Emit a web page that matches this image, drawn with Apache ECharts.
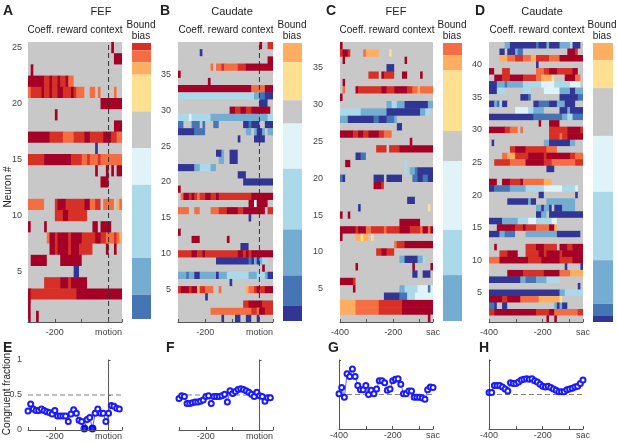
<!DOCTYPE html>
<html>
<head>
<meta charset="utf-8">
<script src="https://cdn.jsdelivr.net/npm/echarts@6/dist/echarts.min.js"></script>
<style>
  html, body { margin: 0; padding: 0; background: #fff; }
  #chart { width: 617px; height: 443px; }
</style>
</head>
<body>
<div id="chart"></div>
<script>
// colour codes used in the heatmap rows (run-length coded, e.g. "6R2r" = 6 dark red, 2 red)
var codes  = ['R', 'r', 'o', 'a', 'y', '.', 'c', 'l', 'm', 'b', 'B'];
var colors = ['#a50026', '#d73027', '#f46d43', '#fdae61', '#fee090', '#c8c8c8',
              '#e0f3f8', '#abd9e9', '#74add1', '#4575b4', '#313695'];

// rows listed from the top neuron down to neuron 1
var heatA = [
  "31.R3.", "32.3R", ".R33.", "6R2rR2rR2rR2o18.", "o4rR2rR2r2R3rRr3o2.2o.o5.o2.",
  "27.8R", "10.R24.", "32.3R", "8R5r4o4r2R5r3R2r2o", "25.B9.",
  "6r10R4r2or3or8o", "25.R3.R.R.2R", "27.3R5.", "35.", "6o4.r3R7r2R2o2r.4o.ao",
  "10.3r2R7r13.", "R5.R17.2R.4R4.", "7.o2Rr4Rr4R5r2R2r3oroa", "8.2Rr4Rr3R5r5.R2.R2.", ".6R5.8R15.",
  "17.2B16.", "6.6r3Rr6R13.", "R17r17R", "R34.", "R2.R31."
];
var heatB = [
  "30.R2.2r", "8.B26.", "33.2R", "12.o.2or5o3r10R", "R34.",
  "11.R23.", "27R5o3R", "28l2m2b3B", "30.3B2.", "19.2R2r2R2r7R.",
  "4lc7l21m2l", "2b3.3b.b3.2b9.2Bb3B2.3B", "6B4b15.2m.m2Bm.2m", "22.B5.4B3.", "35.",
  "14.2Bm2.3B13.", "15.2m2.3B13.", "6B2m4l2m21.", "22.3B10.", "24.11B",
  "R34.", ".o2RrRro2r2R2rR12r8R", "26.2Rc4R2.", "4o2.2o4.3o3r4R2r8R.2r", "26.B8.",
  "35.", "R34.", "5.3R10.R16.", "23.3B9.", "5r2R2rR12r2RrRr8R",
  "14.12BbBmBm2l2.", "31.R3.", "3mb2m2B6mB3m8l3m3lm2B", "19.B15.", "r3Rr2Ra2r3o2.o9.a2orR2r3R",
  "10.B24.", "24.2r5R4r", "12.15o2ro2R3r", "16.B4.2B2.2B2.B5."
];
var heatC = [
  "R35.", "r2Rr5.o5a4.y16.", ".R23.R10.", "18.3B15.", "11.4r.R4r3.2R5.R4.",
  ".R34.", ".o4.R9r2R3r5R2r2oa5o", "R35.", "18.2m2l3m9B2m", "8l10m13B2m2l.",
  "3m10B2b3B3bm14.", "22.2B12.", "5R2r2R2r4R2r3o16.", "27.R8.", "14.4r.4r13R",
  "6.2B2b26.", "2.2R21.l10.", "25.l.2mb6B", "bB11.4B.6B4.2b2B2b2B", "13.3Rr19.",
  "36.", "26.3B7.", "7.B26.y.", "R2.R32.", "23.8R5.",
  "6Rr3R2o5ro5r4R4ro2RoR", "R5.2ay2a.y23.", "21.o3r11R", "14.2r2R3r15.", "23.2m5B2ml3.",
  "6.R21.R6.R", "28.2B2.3B.", "5Rr30.", "5.R17.2m5l4cbc", "17.6B3b3l7c",
  "6a9o9r12R", "6a9o9r12R", "34.R."
];
var heatD = [
  "6.2m10Bb3Bm4B4ml3B.", "4.2B.3Bm2b17.3Rr2.", "4.3a3o3r3o2a5r4o9R", "18.B17.", "2R3.3r10.3o2r3R6r2R2.",
  "2.3R3r5R5r2o4ay4.4R2o.", "3B3mb6m7l5c6l4c.", "3B3l7.3l5.6c4m2B3m", "12.3Bb11.7B2b", "2Bmbl2B10.2B4b3B3m4B3.",
  "10.5c2l4m6.3Bm5B", "17B11b2m2l4b", "19.R3.4R9.", "6R2r3o.o10.7r5Rr", "23.4ro2r6R",
  ".B19.2m8B2m3.", "8.2r4R8r4o10.", "5.2o3a5r6Rr9R2r3o", "2.6r6o7R3r9o3r", "22.3B11.",
  "36.", "3R2.3R4rR8o3a12.", "2B6b6m7l7c5lc2.", "19.2B12.B2.", "7.8Bm2B4.11m3.",
  "18.2mB2mB.3B5m3.", "18.2B2m.13B", "5B6m4l3c6l2c10.", "3.7R3rR4r5o2Ra10.", "4B2m4b4.12m9B.",
  "36.", "2.R11.4r3R5r.3R2r4R", "4.3r4R3.5r2Rr5Rr8R", "4o11R5r7R5r4R", "29.B5.B",
  "7.6R8r6R4o5a", "12B2m4b4m5l9.", "34.B.", "27B2m7l", "5R2r5R7o8ay8.",
  "2bB2.2B18.mBm2B6.", "2r16R5r2R9o2r", "22.R2.R10."
];

// colour bars, top to bottom
var cbA_codes = ['r', 'o', 'a', 'y', '.', 'c', 'l', 'm', 'b'];
var cbA_sizes = [22, 36, 37, 110, 110, 110, 220, 110, 73];
var cbB_codes = ['a', 'y', '.', 'c', 'l', 'm', 'b', 'B'];
var cbB_sizes = [58, 114, 70, 136, 182, 138, 90, 47];
var cbC_codes = ['o', 'a', 'y', '.', 'c', 'l', 'm'];
var cbC_sizes = [38, 47, 187, 93, 213, 140, 142];
var cbD_codes = ['a', 'y', '.', 'c', 'l', 'm', 'b', 'B'];
var cbD_sizes = [52, 83, 143, 167, 205, 130, 35, 20];

// congruent fraction, 10 ms steps
var lineE = [0.27, 0.37, 0.30, 0.28, 0.28, 0.30, 0.28, 0.26, 0.25, 0.23, 0.28, 0.20, 0.20, 0.20, 0.20, 0.12, 0.23, 0.29,
             0.24, 0.14, 0.12, 0.02, 0.15, 0.18, 0.02, 0.24, 0.30, 0.24, 0.24, 0.12, 0.24, 0.35, 0.34, 0.31, 0.30];
var sigE  = [21, 24];
var lineF = [0.45, 0.49, 0.48, 0.38, 0.38, 0.39, 0.40, 0.40, 0.41, 0.43, 0.48, 0.49, 0.38, 0.48, 0.48, 0.48, 0.49, 0.51,
             0.40, 0.56, 0.52, 0.55, 0.58, 0.59, 0.58, 0.56, 0.54, 0.51, 0.48, 0.54, 0.49, 0.48, 0.41, 0.46, 0.46];
var lineG = [0.51, 0.60, 0.46, 0.80, 0.76, 0.87, 0.76, 0.63, 0.57, 0.57, 0.63, 0.50, 0.56, 0.51, 0.58, 0.70, 0.70, 0.67,
             0.56, 0.58, 0.70, 0.72, 0.73, 0.65, 0.51, 0.51, 0.55, 0.55, 0.46, 0.46, 0.46, 0.45, 0.43, 0.57, 0.61, 0.60];
var lineH = [0.53, 0.53, 0.63, 0.63, 0.63, 0.61, 0.58, 0.55, 0.67, 0.66, 0.66, 0.68, 0.71, 0.72, 0.73, 0.72, 0.73, 0.70,
             0.68, 0.65, 0.62, 0.61, 0.62, 0.60, 0.58, 0.56, 0.54, 0.54, 0.54, 0.57, 0.58, 0.59, 0.61, 0.62, 0.66, 0.71];

var tickMotion = {'-200': '-200', '0': 'motion'};
var tickSac    = {'-400': '-400', '-200': '-200', '-50': 'sac'};

(function () {

    var FONT = 'Liberation Sans, Arial, sans-serif';

    var panels = [
        {letter: 'A', area: 'FEF', rows: heatA, bins: 35, tMin: -300, tMax: 50, ticks: tickMotion, dash: true,
         heat: [28, 42, 94, 280], yMargin: 6, cb: [132, 43, 19, 276], cbCodes: cbA_codes, cbSizes: cbA_sizes,
         line: lineE, sig: sigE, lineBox: [28, 360, 94, 70], yLabels: true,
         letterX: 3, areaX: 101, coeffX: 75, cbX: 141, lowLetterX: 3},
        {letter: 'B', area: 'Caudate', rows: heatB, bins: 35, tMin: -300, tMax: 50, ticks: tickMotion, dash: true,
         heat: [178, 42, 95, 280], yMargin: 7, cb: [283, 43, 19, 278], cbCodes: cbB_codes, cbSizes: cbB_sizes,
         line: lineF, sig: [], lineBox: [179, 360, 94, 70], yLabels: false,
         letterX: 160, areaX: 232, coeffX: 226, cbX: 292, lowLetterX: 166},
        {letter: 'C', area: 'FEF', rows: heatC, bins: 36, tMin: -400, tMax: -50, ticks: tickSac, dash: false,
         heat: [340, 42, 93, 280], yMargin: 17, cb: [443, 43, 19, 278], cbCodes: cbC_codes, cbSizes: cbC_sizes,
         line: lineG, sig: [], lineBox: [339, 360, 94, 69], yLabels: false,
         letterX: 326, areaX: 396, coeffX: 387, cbX: 452, lowLetterX: 328},
        {letter: 'D', area: 'Caudate', rows: heatD, bins: 36, tMin: -400, tMax: -50, ticks: tickSac, dash: false,
         heat: [489, 42, 94, 280], yMargin: 7, cb: [593, 43, 20, 279], cbCodes: cbD_codes, cbSizes: cbD_sizes,
         line: lineH, sig: [], lineBox: [489, 360, 94, 69], yLabels: false,
         letterX: 475, areaX: 542, coeffX: 537, cbX: 602, lowLetterX: 479}
    ];
    var lowLetters = ['E', 'F', 'G', 'H'];

    function runs(row) {
        var out = [], re = /(\d*)([.RroaycmlbB])/g, m, col = 0;
        while ((m = re.exec(row))) {
            var n = m[1] ? parseInt(m[1], 10) : 1;
            out.push([col, col + n, m[2]]);
            col += n;
        }
        return out;
    }

    function renderCell(params, api) {
        var y = api.value(2);
        var p0 = api.coord([api.value(0), y]);
        var p1 = api.coord([api.value(1), y]);
        var h = api.size([0, 1])[1];
        return {
            type: 'rect',
            shape: {x: p0[0], y: p0[1] - h / 2, width: p1[0] - p0[0] + 0.5, height: h + 0.5},
            style: {fill: colors[api.value(3)]}
        };
    }

    function timeAxis(gi, p, margin) {
        return {
            gridIndex: gi, type: 'value', min: p.tMin, max: p.tMax, interval: 100, z: 10,
            axisLine: {show: true, onZero: false, lineStyle: {color: '#555', width: 1}},
            axisTick: {show: true, inside: true, length: 3, lineStyle: {color: '#555'}},
            axisLabel: {margin: margin, fontSize: 9, color: '#444', fontFamily: FONT,
                        formatter: function (v) { return p.ticks[String(v)] || ''; }},
            splitLine: {show: false}
        };
    }

    function text(str, x, y, size, opts) {
        opts = opts || {};
        return {
            type: 'text', x: x, y: y, rotation: opts.rot || 0, z: 10,
            style: {text: str, fill: '#222', font: (opts.bold ? 'bold ' : '') + size + 'px ' + FONT,
                    align: opts.align || 'center', verticalAlign: 'middle'}
        };
    }

    var option = {animation: false, grid: [], xAxis: [], yAxis: [], series: [], graphic: []};

    panels.forEach(function (p, k) {

        // heatmap
        var g = option.grid.length;
        option.grid.push({left: p.heat[0], top: p.heat[1], width: p.heat[2], height: p.heat[3],
                          show: true, backgroundColor: '#c8c8c8', borderWidth: 0});
        var xi = option.xAxis.length;
        option.xAxis.push(timeAxis(g, p, 6));
        var n = p.rows.length, cats = [];
        for (var i = 1; i <= n; i++) cats.push(String(i));
        var yi = option.yAxis.length;
        option.yAxis.push({
            gridIndex: g, type: 'category', data: cats,
            axisLine: {show: false}, axisTick: {show: false}, splitLine: {show: false},
            axisLabel: {margin: p.yMargin, fontSize: 9, color: '#444', fontFamily: FONT,
                        interval: function (idx, v) { return parseInt(v, 10) % 5 === 0; }}
        });
        var w = (p.tMax - p.tMin) / p.bins, cells = [];
        p.rows.forEach(function (row, r) {
            var y = n - 1 - r;
            runs(row).forEach(function (seg) {
                cells.push([p.tMin + seg[0] * w, p.tMin + seg[1] * w, y, codes.indexOf(seg[2])]);
            });
        });
        option.series.push({type: 'custom', xAxisIndex: xi, yAxisIndex: yi, data: cells,
                            encode: {x: [0, 1], y: 2}, renderItem: renderCell, clip: true, silent: true});

        if (p.dash) {
            var yv = option.yAxis.length;
            option.yAxis.push({gridIndex: g, type: 'value', min: 0, max: 1, show: false});
            option.series.push({type: 'line', xAxisIndex: xi, yAxisIndex: yv, data: [[0, 0], [0, 1]],
                                symbol: 'none', silent: true, z: 5,
                                lineStyle: {color: '#333', width: 1, type: [5, 3]}});
        }

        // colour bar
        var gc = option.grid.length;
        option.grid.push({left: p.cb[0], top: p.cb[1], width: p.cb[2], height: p.cb[3]});
        var total = p.cbSizes.reduce(function (a, b) { return a + b; }, 0);
        var xc = option.xAxis.length;
        option.xAxis.push({gridIndex: gc, type: 'category', data: ['c'], show: false});
        var yc = option.yAxis.length;
        option.yAxis.push({gridIndex: gc, type: 'value', min: 0, max: total, inverse: true, show: false});
        p.cbSizes.forEach(function (s, j) {
            option.series.push({type: 'bar', xAxisIndex: xc, yAxisIndex: yc, stack: 'cb' + k, data: [s],
                                barWidth: '100%', silent: true,
                                itemStyle: {color: colors[codes.indexOf(p.cbCodes[j])]}});
        });

        // congruent fraction
        var gl = option.grid.length;
        option.grid.push({left: p.lineBox[0], top: p.lineBox[1], width: p.lineBox[2], height: p.lineBox[3]});
        var xl = option.xAxis.length;
        option.xAxis.push(timeAxis(gl, p, 2));
        var yl = option.yAxis.length;
        option.yAxis.push({
            gridIndex: gl, type: 'value', min: 0, max: 1, interval: 0.5,
            axisLine: {show: true, lineStyle: {color: '#555', width: 1}},
            axisTick: {show: true, inside: true, length: 2, lineStyle: {color: '#555'}},
            axisLabel: {show: p.yLabels, margin: 6, fontSize: 9, color: '#444', fontFamily: FONT,
                        formatter: function (v) { return String(v); }},
            splitLine: {show: false}
        });
        option.series.push({type: 'line', xAxisIndex: xl, yAxisIndex: yl, silent: true, z: 2,
                            data: [[p.tMin, 0.5], [p.tMax, 0.5]], symbol: 'none',
                            lineStyle: {color: '#666', width: 0.8, type: [5, 3]}});
        if (p.dash) {
            option.series.push({type: 'line', xAxisIndex: xl, yAxisIndex: yl, silent: true, z: 2,
                                data: [[0, 0], [0, 1]], symbol: 'none',
                                lineStyle: {color: '#666', width: 0.8, type: [5, 3]}});
        }
        option.series.push({
            type: 'line', xAxisIndex: xl, yAxisIndex: yl, silent: true, z: 3,
            data: p.line.map(function (v, i) { return [p.tMin + 10 * i, v]; }),
            symbol: 'emptyCircle', symbolSize: 5,
            lineStyle: {color: '#1a1aff', width: 0.7},
            itemStyle: {color: '#1a1aff', borderWidth: 0.6}
        });
        if (p.sig.length) {
            option.series.push({
                type: 'scatter', xAxisIndex: xl, yAxisIndex: yl, silent: true, z: 4,
                data: p.sig.map(function (i) { return [p.tMin + 10 * i, p.line[i]]; }),
                symbolSize: 8, itemStyle: {color: '#0000ff'}
            });
        }

        // texts
        option.graphic.push(text(p.letter, p.letterX, 11, 14, {bold: true, align: 'left'}));
        option.graphic.push(text(p.area, p.areaX, 12, 11));
        option.graphic.push(text('Coeff. reward context', p.coeffX, 30, 10));
        option.graphic.push(text('Bound', p.cbX, 25, 10));
        option.graphic.push(text('bias', p.cbX, 36, 10));
        option.graphic.push(text(lowLetters[k], p.lowLetterX, 348, 14, {bold: true, align: 'left'}));
    });

    option.graphic.push(text('Neuron #', 8, 187, 10, {rot: Math.PI / 2}));
    option.graphic.push(text('Congruent fraction', 7, 394, 10, {rot: Math.PI / 2}));

    var chart = echarts.init(document.getElementById('chart'));
    chart.setOption(option);

})();
</script>
</body>
</html>
